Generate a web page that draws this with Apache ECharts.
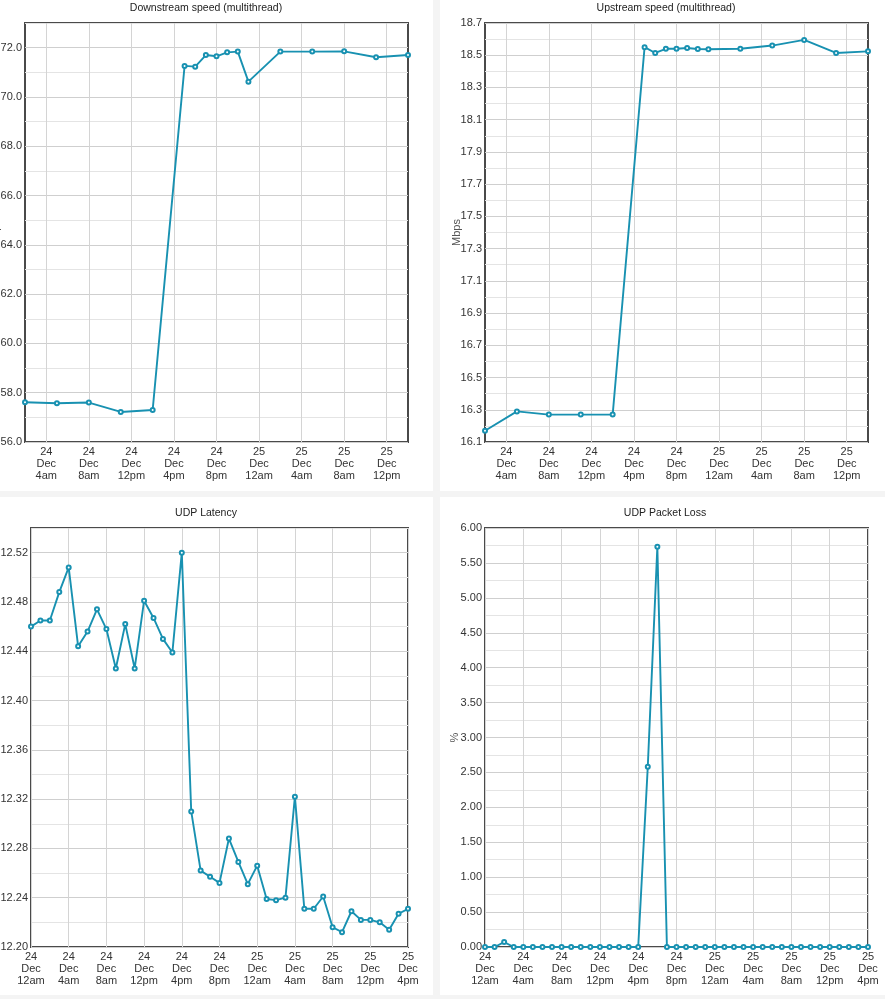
<!DOCTYPE html>
<html>
<head>
  <meta charset="utf-8">
  <title>Speed test history</title>
  <script src="https://cdn.jsdelivr.net/npm/echarts@6/dist/echarts.min.js"></script>
  <style>
    body { margin: 0; background: #f4f4f4; }
    #wrap { position: relative; width: 885px; height: 999px; background: #f4f4f4; }
    .panel { position: absolute; background: #fff; }
    #chart { position: absolute; left: 0; top: 0; width: 885px; height: 999px; }
  </style>
</head>
<body>
<div id="wrap">
  <div class="panel" style="left:0;top:0;width:433px;height:491px"></div>
  <div class="panel" style="left:440px;top:0;width:445px;height:491px"></div>
  <div class="panel" style="left:0;top:497px;width:433px;height:498px"></div>
  <div class="panel" style="left:440px;top:497px;width:445px;height:498px"></div>
  <div id="chart"></div>
</div>

<script>
  // hours counted from 24 Dec 00:00
  var speedHours = [2, 5, 8, 11, 14, 17, 18, 19, 20, 21, 22, 23, 26, 29, 32, 35, 38];
  var downstream = [57.61, 57.57, 57.60, 57.22, 57.30, 71.26, 71.23, 71.70, 71.65, 71.81, 71.84, 70.62, 71.84, 71.84, 71.85, 71.61, 71.70];
  var upstream = [16.17, 16.29, 16.27, 16.27, 16.27, 18.55, 18.514, 18.54, 18.54, 18.545, 18.539, 18.537, 18.54, 18.56, 18.595, 18.514, 18.524];

  var udpHours = [0, 1, 2, 3, 4, 5, 6, 7, 8, 9, 10, 11, 12, 13, 14, 15, 16, 17, 18, 19, 20,
                  21, 22, 23, 24, 25, 26, 27, 28, 29, 30, 31, 32, 33, 34, 35, 36, 37, 38, 39, 40];
  var udpLatency = [12.460, 12.465, 12.465, 12.488, 12.508, 12.444, 12.456, 12.474, 12.458, 12.426,
                    12.462, 12.426, 12.481, 12.467, 12.450, 12.439, 12.520, 12.310, 12.262, 12.257,
                    12.252, 12.288, 12.269, 12.251, 12.266, 12.239, 12.238, 12.240, 12.322, 12.231,
                    12.231, 12.241, 12.216, 12.212, 12.229, 12.222, 12.222, 12.220, 12.214, 12.227, 12.231];
  var udpLoss = [0, 0, 0.07, 0, 0, 0, 0, 0, 0, 0, 0, 0, 0, 0, 0, 0, 0, 2.58, 5.73, 0, 0,
                 0, 0, 0, 0, 0, 0, 0, 0, 0, 0, 0, 0, 0, 0, 0, 0, 0, 0, 0, 0];

  // x tick positions (hours)
  var speedTicks = [4, 8, 12, 16, 20, 24, 28, 32, 36];
  var udpTicks = [0, 4, 8, 12, 16, 20, 24, 28, 32, 36, 40];

  var titles = ['Downstream speed (multithread)', 'Upstream speed (multithread)', 'UDP Latency', 'UDP Packet Loss'];

  var lineColor = '#1891b1';
  var font = 'Liberation Sans, Arial, sans-serif';

  function hourLabel(h) {
    var day = 24 + Math.floor(h / 24);
    var hr = h % 24;
    var t;
    if (hr === 0) t = '12am';
    else if (hr < 12) t = hr + 'am';
    else if (hr === 12) t = '12pm';
    else t = (hr - 12) + 'pm';
    return day + '\nDec\n' + t;
  }

  function pairs(xs, ys) {
    return xs.map(function (x, i) { return [x, ys[i]]; });
  }

  function xAxisFor(gridIndex, min, max, ticks) {
    return {
      type: 'value',
      gridIndex: gridIndex,
      min: min,
      max: max,
      axisLine: { show: false },
      axisTick: { show: false, customValues: ticks },
      axisLabel: {
        customValues: ticks,
        formatter: hourLabel,
        color: '#333',
        fontSize: 11,
        lineHeight: 12,
        fontFamily: font,
        margin: 4
      },
      splitLine: { show: true, lineStyle: { color: '#d4d4d4', width: 1 } }
    };
  }

  function yAxisFor(gridIndex, min, max, step, digits, name, gap) {
    return {
      type: 'value',
      gridIndex: gridIndex,
      min: min,
      max: max,
      interval: step,
      name: name,
      nameLocation: 'middle',
      nameGap: gap,
      nameMoveOverlap: false,
      nameTextStyle: { color: '#555', fontSize: 11, fontFamily: font },
      axisLine: { show: false },
      axisTick: { show: false },
      axisLabel: {
        color: '#333',
        fontSize: 11,
        fontFamily: font,
        margin: 3,
        formatter: function (v) {
          var k = Math.round((v - min) / step);
          return k % 2 === 0 ? v.toFixed(digits) : '';
        }
      },
      splitLine: { show: true, lineStyle: { color: ['#cfcfcf', '#e4e4e4'], width: 1 } }
    };
  }

  function seriesFor(idx, data) {
    return {
      type: 'line',
      xAxisIndex: idx,
      yAxisIndex: idx,
      data: data,
      symbol: 'emptyCircle',
      symbolSize: 4,
      showAllSymbol: true,
      animation: false,
      lineStyle: { color: lineColor, width: 1.9 },
      itemStyle: { color: lineColor, borderWidth: 1.2 }
    };
  }

  var gridBase = { show: true, borderColor: '#4a4a4a', borderWidth: 2, backgroundColor: 'transparent', outerBoundsMode: 'none', containLabel: false };

  function titleText(x, y, text) {
    return { type: 'text', x: x, y: y, style: { text: text, font: '10.5px ' + font, fill: '#222', textAlign: 'center', textVerticalAlign: 'middle' } };
  }

  var myChart = echarts.init(document.getElementById('chart'));

  myChart.setOption({
    animation: false,
    backgroundColor: 'transparent',
    graphic: [
      titleText(206, 8, titles[0]),
      titleText(666, 8, titles[1]),
      titleText(206, 513, titles[2]),
      titleText(665, 513, titles[3])
    ],
    grid: [
      Object.assign({ left: 25, top: 23, width: 383, height: 419 }, gridBase),
      Object.assign({ left: 485, top: 23, width: 383, height: 419 }, gridBase),
      Object.assign({ left: 31, top: 528, width: 377, height: 419 }, gridBase),
      Object.assign({ left: 485, top: 528, width: 383, height: 419 }, gridBase)
    ],
    xAxis: [
      xAxisFor(0, 2, 38, speedTicks),
      xAxisFor(1, 2, 38, speedTicks),
      xAxisFor(2, 0, 40, udpTicks),
      xAxisFor(3, 0, 40, udpTicks)
    ],
    yAxis: [
      yAxisFor(0, 56, 73, 1, 1, 'Mbps', 24),
      yAxisFor(1, 16.1, 18.7, 0.1, 1, 'Mbps', 23),
      yAxisFor(2, 12.2, 12.54, 0.02, 2, '', 30),
      yAxisFor(3, 0, 6, 0.25, 2, '%', 25)
    ],
    series: [
      seriesFor(0, pairs(speedHours, downstream)),
      seriesFor(1, pairs(speedHours, upstream)),
      seriesFor(2, pairs(udpHours, udpLatency)),
      seriesFor(3, pairs(udpHours, udpLoss))
    ]
  });
</script>
</body>
</html>
